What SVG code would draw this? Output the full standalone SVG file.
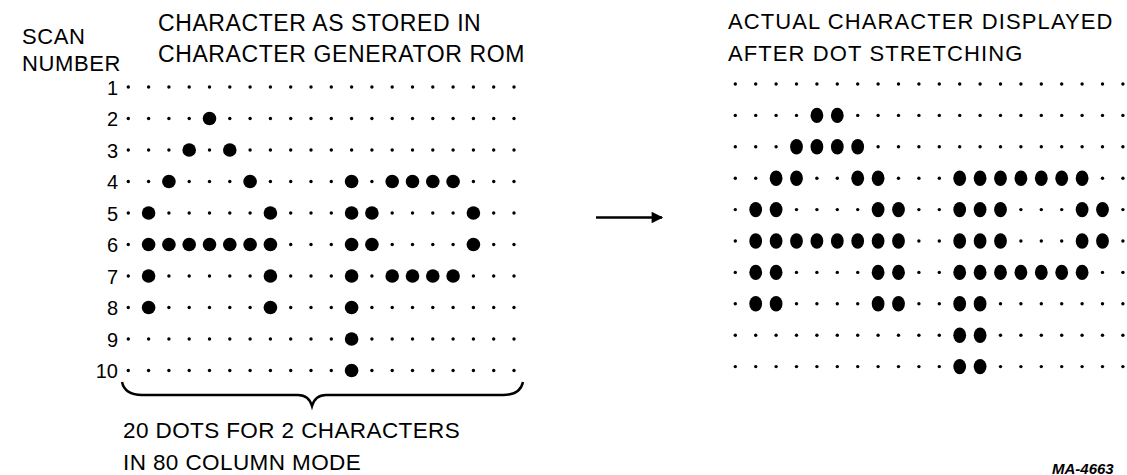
<svg xmlns="http://www.w3.org/2000/svg" xmlns:xlink="http://www.w3.org/1999/xlink" width="1127" height="475" viewBox="0 0 1127 475">
<style>
text{font-family:"Liberation Sans",Arial,sans-serif;fill:#000}
.h{font-size:22px;letter-spacing:0.6px}
.n{font-size:20px;text-anchor:end}
.s{fill:#000}
.b{fill:#000}
.conn{stroke:#000;stroke-width:2.5;fill:none}
</style>
<defs>
<g id="rowL" class="s">
<circle cx="128.3" cy="0" r="1.7"/><circle cx="148.6" cy="0" r="1.7"/><circle cx="168.9" cy="0" r="1.7"/><circle cx="189.2" cy="0" r="1.7"/><circle cx="209.5" cy="0" r="1.7"/><circle cx="229.8" cy="0" r="1.7"/><circle cx="250.1" cy="0" r="1.7"/><circle cx="270.4" cy="0" r="1.7"/><circle cx="290.7" cy="0" r="1.7"/><circle cx="311" cy="0" r="1.7"/><circle cx="331.3" cy="0" r="1.7"/><circle cx="351.6" cy="0" r="1.7"/><circle cx="371.9" cy="0" r="1.7"/><circle cx="392.2" cy="0" r="1.7"/><circle cx="412.5" cy="0" r="1.7"/><circle cx="432.8" cy="0" r="1.7"/><circle cx="453.1" cy="0" r="1.7"/><circle cx="473.4" cy="0" r="1.7"/><circle cx="493.7" cy="0" r="1.7"/><circle cx="514" cy="0" r="1.7"/>
</g>
<g id="rowR" class="s">
<circle cx="735.3" cy="0" r="1.7"/><circle cx="755.7" cy="0" r="1.7"/><circle cx="776.1" cy="0" r="1.7"/><circle cx="796.5" cy="0" r="1.7"/><circle cx="816.9" cy="0" r="1.7"/><circle cx="837.3" cy="0" r="1.7"/><circle cx="857.7" cy="0" r="1.7"/><circle cx="878.1" cy="0" r="1.7"/><circle cx="898.5" cy="0" r="1.7"/><circle cx="918.9" cy="0" r="1.7"/><circle cx="939.3" cy="0" r="1.7"/><circle cx="959.7" cy="0" r="1.7"/><circle cx="980.1" cy="0" r="1.7"/><circle cx="1000.5" cy="0" r="1.7"/><circle cx="1020.9" cy="0" r="1.7"/><circle cx="1041.3" cy="0" r="1.7"/><circle cx="1061.7" cy="0" r="1.7"/><circle cx="1082.1" cy="0" r="1.7"/><circle cx="1102.5" cy="0" r="1.7"/><circle cx="1122.9" cy="0" r="1.7"/>
</g>
<circle id="B" cx="0" cy="0" r="6.8"/>
<ellipse id="E" cx="0" cy="0" rx="6.4" ry="7.7"/>
<marker id="ah" viewBox="0 0 10 10" refX="9" refY="5" markerWidth="6" markerHeight="4.6" markerUnits="strokeWidth" orient="auto">
<path d="M0,0 L10,5 L0,10 z" fill="#000"/>
</marker>
</defs>

<g id="headings">
<text class="h" x="22" y="44">SCAN</text>
<text class="h" x="22" y="71">NUMBER</text>
<text class="h" x="158" y="31" style="font-size:23px">CHARACTER AS STORED IN</text>
<text class="h" x="158" y="62" style="font-size:23px">CHARACTER GENERATOR ROM</text>
<text class="h" x="728" y="29" style="letter-spacing:1.1px">ACTUAL CHARACTER DISPLAYED</text>
<text class="h" x="728" y="61" style="letter-spacing:1.1px">AFTER DOT STRETCHING</text>
</g>

<g id="scan-numbers">
<text class="n" x="118" y="94.5">1</text>
<text class="n" x="118" y="126">2</text>
<text class="n" x="118" y="157.5">3</text>
<text class="n" x="118" y="189">4</text>
<text class="n" x="118" y="220.5">5</text>
<text class="n" x="118" y="252">6</text>
<text class="n" x="118" y="283.5">7</text>
<text class="n" x="118" y="315">8</text>
<text class="n" x="118" y="346.5">9</text>
<text class="n" x="118" y="378">10</text>
</g>

<g id="rom-grid">
<use xlink:href="#rowL" href="#rowL" y="87"/>
<use xlink:href="#rowL" href="#rowL" y="118.5"/>
<use xlink:href="#rowL" href="#rowL" y="150"/>
<use xlink:href="#rowL" href="#rowL" y="181.5"/>
<use xlink:href="#rowL" href="#rowL" y="213"/>
<use xlink:href="#rowL" href="#rowL" y="244.5"/>
<use xlink:href="#rowL" href="#rowL" y="276"/>
<use xlink:href="#rowL" href="#rowL" y="307.5"/>
<use xlink:href="#rowL" href="#rowL" y="339"/>
<use xlink:href="#rowL" href="#rowL" y="370.5"/>
<g class="b">
<use href="#B" x="209.5" y="118.5"/>
<use href="#B" x="189.2" y="150"/><use href="#B" x="229.8" y="150"/>
<use href="#B" x="168.9" y="181.5"/><use href="#B" x="250.1" y="181.5"/><use href="#B" x="351.6" y="181.5"/><use href="#B" x="392.2" y="181.5"/><use href="#B" x="412.5" y="181.5"/><use href="#B" x="432.8" y="181.5"/><use href="#B" x="453.1" y="181.5"/>
<use href="#B" x="148.6" y="213"/><use href="#B" x="270.4" y="213"/><use href="#B" x="351.6" y="213"/><use href="#B" x="371.9" y="213"/><use href="#B" x="473.4" y="213"/>
<use href="#B" x="148.6" y="244.5"/><use href="#B" x="168.9" y="244.5"/><use href="#B" x="189.2" y="244.5"/><use href="#B" x="209.5" y="244.5"/><use href="#B" x="229.8" y="244.5"/><use href="#B" x="250.1" y="244.5"/><use href="#B" x="270.4" y="244.5"/><use href="#B" x="351.6" y="244.5"/><use href="#B" x="371.9" y="244.5"/><use href="#B" x="473.4" y="244.5"/>
<use href="#B" x="148.6" y="276"/><use href="#B" x="270.4" y="276"/><use href="#B" x="351.6" y="276"/><use href="#B" x="392.2" y="276"/><use href="#B" x="412.5" y="276"/><use href="#B" x="432.8" y="276"/><use href="#B" x="453.1" y="276"/>
<use href="#B" x="148.6" y="307.5"/><use href="#B" x="270.4" y="307.5"/><use href="#B" x="351.6" y="307.5"/>
<use href="#B" x="351.6" y="339"/>
<use href="#B" x="351.6" y="370.5"/>
</g>
</g>

<g id="displayed-grid">
<use href="#rowR" y="84"/>
<use href="#rowR" y="115.4"/>
<use href="#rowR" y="146.8"/>
<use href="#rowR" y="178.2"/>
<use href="#rowR" y="209.6"/>
<use href="#rowR" y="241"/>
<use href="#rowR" y="272.4"/>
<use href="#rowR" y="303.8"/>
<use href="#rowR" y="335.2"/>
<use href="#rowR" y="366.6"/>
<g class="b">
<use href="#E" x="816.9" y="115.4"/><use href="#E" x="837.3" y="115.4"/>
<use href="#E" x="796.5" y="146.8"/><use href="#E" x="816.9" y="146.8"/><use href="#E" x="837.3" y="146.8"/><use href="#E" x="857.7" y="146.8"/>
<use href="#E" x="776.1" y="178.2"/><use href="#E" x="796.5" y="178.2"/><use href="#E" x="857.7" y="178.2"/><use href="#E" x="878.1" y="178.2"/><use href="#E" x="959.7" y="178.2"/><use href="#E" x="980.1" y="178.2"/><use href="#E" x="1000.5" y="178.2"/><use href="#E" x="1020.9" y="178.2"/><use href="#E" x="1041.3" y="178.2"/><use href="#E" x="1061.7" y="178.2"/><use href="#E" x="1082.1" y="178.2"/>
<use href="#E" x="755.7" y="209.6"/><use href="#E" x="776.1" y="209.6"/><use href="#E" x="878.1" y="209.6"/><use href="#E" x="898.5" y="209.6"/><use href="#E" x="959.7" y="209.6"/><use href="#E" x="980.1" y="209.6"/><use href="#E" x="1000.5" y="209.6"/><use href="#E" x="1082.1" y="209.6"/><use href="#E" x="1102.5" y="209.6"/>
<use href="#E" x="755.7" y="241"/><use href="#E" x="776.1" y="241"/><use href="#E" x="796.5" y="241"/><use href="#E" x="816.9" y="241"/><use href="#E" x="837.3" y="241"/><use href="#E" x="857.7" y="241"/><use href="#E" x="878.1" y="241"/><use href="#E" x="898.5" y="241"/><use href="#E" x="959.7" y="241"/><use href="#E" x="980.1" y="241"/><use href="#E" x="1000.5" y="241"/><use href="#E" x="1082.1" y="241"/><use href="#E" x="1102.5" y="241"/>
<use href="#E" x="755.7" y="272.4"/><use href="#E" x="776.1" y="272.4"/><use href="#E" x="878.1" y="272.4"/><use href="#E" x="898.5" y="272.4"/><use href="#E" x="959.7" y="272.4"/><use href="#E" x="980.1" y="272.4"/><use href="#E" x="1000.5" y="272.4"/><use href="#E" x="1020.9" y="272.4"/><use href="#E" x="1041.3" y="272.4"/><use href="#E" x="1061.7" y="272.4"/><use href="#E" x="1082.1" y="272.4"/>
<use href="#E" x="755.7" y="303.8"/><use href="#E" x="776.1" y="303.8"/><use href="#E" x="878.1" y="303.8"/><use href="#E" x="898.5" y="303.8"/><use href="#E" x="959.7" y="303.8"/><use href="#E" x="980.1" y="303.8"/>
<use href="#E" x="959.7" y="335.2"/><use href="#E" x="980.1" y="335.2"/>
<use href="#E" x="959.7" y="366.6"/><use href="#E" x="980.1" y="366.6"/>
</g>
</g>

<g id="connectors">
<path class="conn" d="M596,217.5 H662" marker-end="url(#ah)"/>
<path class="conn" d="M122,382 C124,391 130,395 142,395 H298 C306,395 310,399 312,406 C314,399 318,395 326,395 H503 C515,395 521,391 523,382"/>
</g>

<g id="brace-label">
<text class="h" x="123" y="438" style="font-size:22.5px;letter-spacing:0.4px">20 DOTS FOR 2 CHARACTERS</text>
<text class="h" x="123" y="470" style="font-size:22.5px;letter-spacing:0.4px">IN 80 COLUMN MODE</text>
</g>

<text x="1052" y="474" style="font-size:15px;font-weight:bold;font-style:italic">MA-4663</text>
</svg>
